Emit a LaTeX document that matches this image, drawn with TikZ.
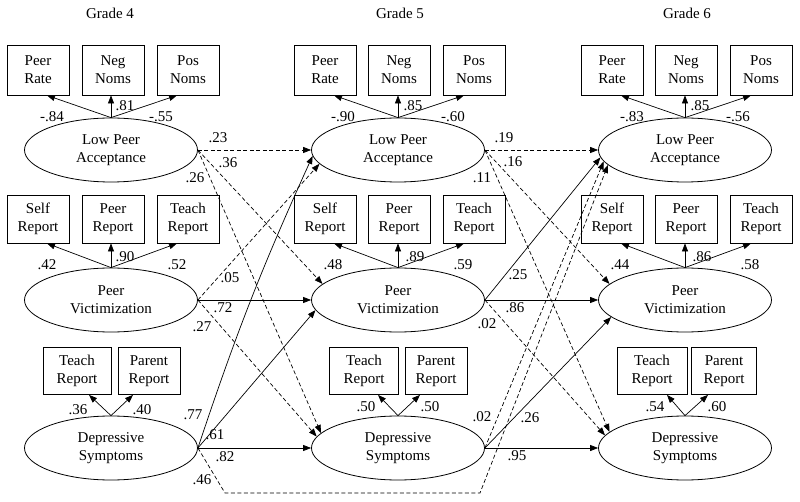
\documentclass[tikz,border=0pt]{standalone}
\usepackage{fontspec}
\setmainfont{Liberation Serif}
\usetikzlibrary{arrows.meta,shapes.geometric}

\begin{document}
\begin{tikzpicture}[x=1pt,y=-1pt,font=\fontsize{15}{18}\selectfont,
    obs/.style={draw,rectangle,line width=0.8pt,minimum width=62pt,minimum height=50pt,inner sep=0pt,align=center},
    obs2/.style={obs,minimum height=48pt},
    latent/.style={draw,ellipse,line width=0.8pt,minimum width=173pt,minimum height=64pt,inner sep=0pt,align=center},
    lbl/.style={inner sep=0pt},
    arr/.style={-{Triangle[length=8pt,width=6pt]},line width=0.7pt},
    dsh/.style={arr,dash pattern=on 4pt off 2.5pt}]
				\useasboundingbox (0,0) rectangle (800,502);

				% Grade 4
				\node (g4) at (110,13) {Grade 4};
				\node[obs] (rate4) at (38,70) {Peer\\Rate};
				\node[obs] (neg4) at (113,70) {Neg\\Noms};
				\node[obs] (pos4) at (188,70) {Pos\\Noms};
				\node[latent] (lpa4) at (111,150) {Low Peer\\Acceptance};
				\node[obs2] (self4) at (38,219) {Self\\Report};
				\node[obs2] (peer4) at (113,219) {Peer\\Report};
				\node[obs2] (teach4) at (188,219) {Teach\\Report};
				\node[latent] (pv4) at (111,300) {Peer\\Victimization};
				\node[obs2,minimum width=68pt,minimum height=47pt] (tdep4) at (77,371) {Teach\\Report};
				\node[obs2,minimum height=47pt] (pdep4) at (149,371) {Parent\\Report};
				\node[latent] (ds4) at (111,448) {Depressive\\Symptoms};

				% Grade 5
				\node (g5) at (400,13) {Grade 5};
				\node[obs] (rate5) at (325,70) {Peer\\Rate};
				\node[obs] (neg5) at (399,70) {Neg\\Noms};
				\node[obs] (pos5) at (474,70) {Pos\\Noms};
				\node[latent] (lpa5) at (398,150) {Low Peer\\Acceptance};
				\node[obs2] (self5) at (325,219) {Self\\Report};
				\node[obs2] (peer5) at (399,219) {Peer\\Report};
				\node[obs2] (teach5) at (474,219) {Teach\\Report};
				\node[latent] (pv5) at (398,300) {Peer\\Victimization};
				\node[obs2,minimum width=69pt,minimum height=47pt] (tdep5) at (364,371) {Teach\\Report};
				\node[obs2,minimum height=47pt] (pdep5) at (436,371) {Parent\\Report};
				\node[latent] (ds5) at (398,448) {Depressive\\Symptoms};

				% Grade 6
				\node (g6) at (687,13) {Grade 6};
				\node[obs] (rate6) at (612,70) {Peer\\Rate};
				\node[obs] (neg6) at (686,70) {Neg\\Noms};
				\node[obs] (pos6) at (761,70) {Pos\\Noms};
				\node[latent] (lpa6) at (685,150) {Low Peer\\Acceptance};
				\node[obs2] (self6) at (612,219) {Self\\Report};
				\node[obs2] (peer6) at (686,219) {Peer\\Report};
				\node[obs2] (teach6) at (761,219) {Teach\\Report};
				\node[latent] (pv6) at (685,300) {Peer\\Victimization};
				\node[obs2,minimum width=70pt,minimum height=47pt] (tdep6) at (652,371) {Teach\\Report};
				\node[obs2,minimum width=65pt,minimum height=47pt] (pdep6) at (724,371) {Parent\\Report};
				\node[latent] (ds6) at (685,448) {Depressive\\Symptoms};

				% Loadings
				\draw[arr] (lpa4.north) -- ([xshift=9pt]rate4.south);
				\draw[arr] (lpa4.north) -- (lpa4.north |- neg4.south);
				\draw[arr] (lpa4.north) -- ([xshift=-11pt]pos4.south);
				\draw[arr] (pv4.north) -- ([xshift=9pt]self4.south);
				\draw[arr] (pv4.north) -- (pv4.north |- peer4.south);
				\draw[arr] (pv4.north) -- ([xshift=-11pt]teach4.south);
				\draw[arr] (ds4.north) -- ([xshift=12pt]tdep4.south);
				\draw[arr] (ds4.north) -- ([xshift=-16pt]pdep4.south);

				\draw[arr] (lpa5.north) -- ([xshift=9pt]rate5.south);
				\draw[arr] (lpa5.north) -- (lpa5.north |- neg5.south);
				\draw[arr] (lpa5.north) -- ([xshift=-10pt]pos5.south);
				\draw[arr] (pv5.north) -- ([xshift=9pt]self5.south);
				\draw[arr] (pv5.north) -- (pv5.north |- peer5.south);
				\draw[arr] (pv5.north) -- ([xshift=-10pt]teach5.south);
				\draw[arr] (ds5.north) -- ([xshift=14pt]tdep5.south);
				\draw[arr] (ds5.north) -- ([xshift=-16pt]pdep5.south);

				\draw[arr] (lpa6.north) -- ([xshift=9pt]rate6.south);
				\draw[arr] (lpa6.north) -- (lpa6.north |- neg6.south);
				\draw[arr] (lpa6.north) -- ([xshift=-10pt]pos6.south);
				\draw[arr] (pv6.north) -- ([xshift=9pt]self6.south);
				\draw[arr] (pv6.north) -- (pv6.north |- peer6.south);
				\draw[arr] (pv6.north) -- ([xshift=-10pt]teach6.south);
				\draw[arr] (ds6.north) -- ([xshift=15pt]tdep6.south);
				\draw[arr] (ds6.north) -- ([xshift=-16pt]pdep6.south);

				\node[lbl] (w1) at (52,117) {-.84};
				\node[lbl] (w2) at (125,106) {.81};
				\node[lbl] (w3) at (161,117) {-.55};
				\node[lbl] (w4) at (47,265) {.42};
				\node[lbl] (w5) at (125,257) {.90};
				\node[lbl] (w6) at (177,265) {.52};
				\node[lbl] (w7) at (78,410) {.36};
				\node[lbl] (w8) at (142,410) {.40};
				\node[lbl] (w9) at (343,117) {-.90};
				\node[lbl] (w10) at (413,106) {.85};
				\node[lbl] (w11) at (453,117) {-.60};
				\node[lbl] (w12) at (333,265) {.48};
				\node[lbl] (w13) at (415,257) {.89};
				\node[lbl] (w14) at (463,265) {.59};
				\node[lbl] (w15) at (366,407) {.50};
				\node[lbl] (w16) at (430,407) {.50};
				\node[lbl] (w17) at (632,117) {-.83};
				\node[lbl] (w18) at (700,106) {.85};
				\node[lbl] (w19) at (738,117) {-.56};
				\node[lbl] (w20) at (620,265) {.44};
				\node[lbl] (w21) at (702,257) {.86};
				\node[lbl] (w22) at (750,265) {.58};
				\node[lbl] (w23) at (655,407) {.54};
				\node[lbl] (w24) at (717,407) {.60};

				% Grade 4 -> Grade 5
				\coordinate (c46a) at (225,493);
				\coordinate (c46b) at (480,493);
				\draw[dsh] (lpa4.east) -- (lpa5.west);
				\draw[dsh] (lpa4.east) -- (pv5.168);
				\draw[dsh] (lpa4.east) -- (ds5.169);
				\draw[dsh] (pv4.east) -- (lpa5.190);
				\draw[arr] (pv4.east) -- (pv5.west);
				\draw[dsh] (pv4.east) -- (ds5.172);
				\draw[arr] (ds4.east) to[bend left=3] (lpa5.184);
				\draw[arr] (ds4.east) -- (pv5.187);
				\draw[arr] (ds4.east) -- (ds5.west);
				\draw[dsh] (ds4.east) -- (c46a) -- (c46b) -- (lpa6.191);

				\node[lbl] (b1) at (218,138) {.23};
				\node[lbl] (b2) at (228,163) {.36};
				\node[lbl] (b3) at (195,178) {.26};
				\node[lbl] (b4) at (230,278) {.05};
				\node[lbl] (b5) at (223,308) {.72};
				\node[lbl] (b6) at (202,327) {.27};
				\node[lbl] (b7) at (193,415) {.77};
				\node[lbl] (b8) at (215,435) {.61};
				\node[lbl] (b9) at (225,457) {.82};
				\node[lbl] (b10) at (202,480) {.46};

				% Grade 5 -> Grade 6
				\draw[dsh] (lpa5.east) -- (lpa6.west);
				\draw[dsh] (lpa5.east) -- (pv6.168);
				\draw[dsh] (lpa5.east) -- (ds6.168);
				\draw[arr] (pv5.east) -- (lpa6.185);
				\draw[arr] (pv5.east) -- (pv6.west);
				\draw[dsh] (pv5.east) -- (ds6.171);
				\draw[dsh] (ds5.east) -- (lpa6.188);
				\draw[arr] (ds5.east) -- (pv6.193);
				\draw[arr] (ds5.east) -- (ds6.west);

				\node[lbl] (b11) at (504,138) {.19};
				\node[lbl] (b12) at (513,162) {.16};
				\node[lbl] (b13) at (482,178) {.11};
				\node[lbl] (b14) at (518,275) {.25};
				\node[lbl] (b15) at (515,308) {.86};
				\node[lbl] (b16) at (487,324) {.02};
				\node[lbl] (b17) at (482,417) {.02};
				\node[lbl] (b18) at (530,418) {.26};
				\node[lbl] (b19) at (517,456) {.95};

			\end{tikzpicture}
\end{document}
